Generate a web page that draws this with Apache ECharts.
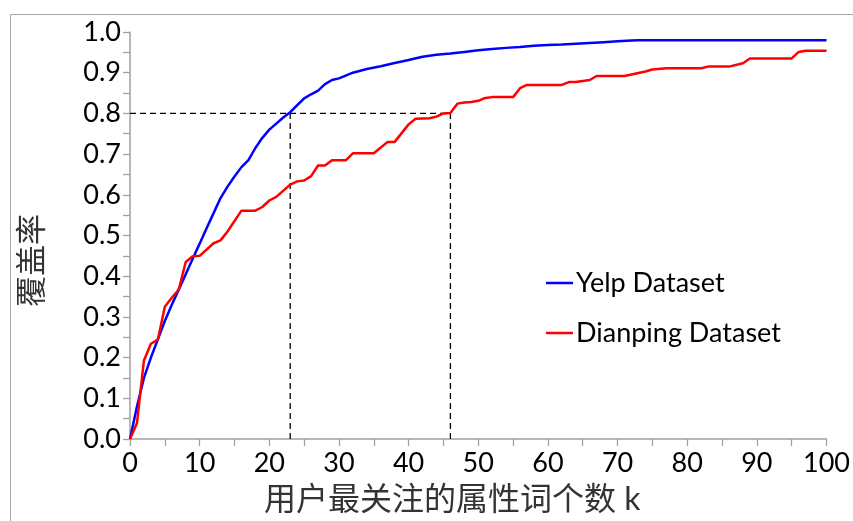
<!DOCTYPE html>
<html>
<head>
<meta charset="utf-8">
<script src="https://cdn.jsdelivr.net/npm/echarts@6/dist/echarts.min.js"></script>
<style>html,body{margin:0;padding:0;background:#fff;}#c{width:853px;height:521px;}</style>
</head>
<body>
<div id="c"></div>
<script>
const yelpK = [0,1,2,3,4,5,6,7,8,9,10,11,12,13,14,15,16,17,18,19,20,21,22,23,24,25,26,27,28,29,30,32,34,36,38,40,42,44,46,48,50,52,54,56,58,60,62,64,66,68,70,72,73,100];
const yelpCoverage = [0,0.08,0.15,0.2,0.245,0.29,0.33,0.367,0.405,0.443,0.48,0.518,0.555,0.592,0.62,0.645,0.668,0.685,0.715,0.74,0.76,0.775,0.79,0.803,0.82,0.837,0.847,0.856,0.872,0.882,0.886,0.9,0.909,0.916,0.924,0.931,0.939,0.944,0.947,0.951,0.955,0.958,0.961,0.963,0.966,0.968,0.969,0.971,0.973,0.975,0.977,0.979,0.98,0.98];
const dianpingK = [0,1,2,3,4,5,6,7,8,9,10,12,13,14,16,18,19,20,21,23,24,25,26,27,28,29,31,32,35,37,38,40,41,43,44,45,46,47,48,49,50,51,52,55,56,57,62,63,64,66,67,71,74,75,77,82,83,86,88,89,95,96,97,100];
const dianpingCoverage = [0,0.039,0.193,0.234,0.244,0.325,0.347,0.367,0.435,0.449,0.45,0.481,0.488,0.51,0.561,0.561,0.57,0.586,0.595,0.625,0.633,0.635,0.646,0.672,0.672,0.685,0.685,0.702,0.702,0.73,0.73,0.773,0.787,0.788,0.792,0.8,0.801,0.824,0.827,0.828,0.831,0.838,0.84,0.84,0.862,0.87,0.87,0.877,0.877,0.882,0.892,0.892,0.903,0.908,0.911,0.911,0.915,0.915,0.923,0.935,0.935,0.951,0.954,0.954];
const thresholdCoverage = 0.8;
const yelpThresholdK = 23;
const dianpingThresholdK = 46;
const seriesNames = ['Yelp Dataset', 'Dianping Dataset'];
const xAxisTitle = '用户最关注的属性词个数 k';
const yAxisTitle = '覆盖率';

const zip = (a, b) => a.map((v, i) => [v, b[i]]);
const font = 'Lato, "Noto Sans CJK SC", sans-serif';
const dashStyle = { color: '#000', width: 1.3, type: [6, 4] };

const chart = echarts.init(document.getElementById('c'));
chart.setOption({
  animation: false,
  backgroundColor: '#fff',
  graphic: [{
    type: 'rect', left: 8, top: 12, shape: { width: 900, height: 600 },
    style: { fill: 'none', stroke: '#a6a6a6', lineWidth: 1 }, silent: true
  }],
  grid: { left: 130, right: 26, top: 32, bottom: 78 },
  legend: {
    orient: 'vertical', left: 541, top: 264,
    data: seriesNames,
    icon: 'rect', itemWidth: 27, itemHeight: 2.5, itemGap: 22,
    textStyle: { fontFamily: font, fontSize: 27, color: '#000', lineHeight: 28, padding: [0, 0, 0, -2] }
  },
  xAxis: {
    type: 'value', min: 0, max: 100, interval: 10,
    name: xAxisTitle, nameLocation: 'middle', nameGap: 45,
    nameTextStyle: { fontFamily: font, fontSize: 32, color: '#333', padding: [0, 52, 0, 0] },
    axisLine: { lineStyle: { color: '#a0a0a0', width: 1.5 } },
    axisTick: { length: 7, lineStyle: { color: '#a0a0a0', width: 1.3 } },
    minorTick: { show: true, splitNumber: 2, length: 7, lineStyle: { color: '#a0a0a0', width: 1.3 } },
    axisLabel: { fontFamily: font, fontSize: 27, color: '#000', margin: 11 },
    splitLine: { show: false }
  },
  yAxis: {
    type: 'value', min: 0, max: 1, interval: 0.1,
    name: yAxisTitle, nameLocation: 'middle', nameGap: 83, nameRotate: 90,
    nameTextStyle: { fontFamily: font, fontSize: 31, color: '#333', padding: [0, 50, 0, 0] },
    axisLine: { show: true, lineStyle: { color: '#a0a0a0', width: 1.5 } },
    axisTick: { show: true, length: 7, lineStyle: { color: '#a0a0a0', width: 1.3 } },
    minorTick: { show: true, splitNumber: 2, length: 7, lineStyle: { color: '#a0a0a0', width: 1.3 } },
    axisLabel: { fontFamily: font, fontSize: 27, color: '#000', margin: 9, formatter: v => v.toFixed(1) },
    splitLine: { show: false }
  },
  series: [
    {
      name: seriesNames[0], type: 'line', data: zip(yelpK, yelpCoverage),
      showSymbol: false, symbol: 'none', lineStyle: { color: '#0000ff', width: 2.5 }, itemStyle: { color: '#0000ff' }, z: 3
    },
    {
      name: seriesNames[1], type: 'line', data: zip(dianpingK, dianpingCoverage),
      showSymbol: false, symbol: 'none', lineStyle: { color: '#ff0000', width: 2.5 }, itemStyle: { color: '#ff0000' }, z: 4
    },
    {
      name: 'h', type: 'line', data: [[0, thresholdCoverage], [dianpingThresholdK, thresholdCoverage]],
      symbol: 'none', lineStyle: dashStyle, z: 2, silent: true
    },
    {
      name: 'v1', type: 'line', data: [[yelpThresholdK, 0], [yelpThresholdK, thresholdCoverage]],
      symbol: 'none', lineStyle: dashStyle, z: 2, silent: true
    },
    {
      name: 'v2', type: 'line', data: [[dianpingThresholdK, 0], [dianpingThresholdK, thresholdCoverage]],
      symbol: 'none', lineStyle: dashStyle, z: 2, silent: true
    }
  ]
});
</script>
</body>
</html>
